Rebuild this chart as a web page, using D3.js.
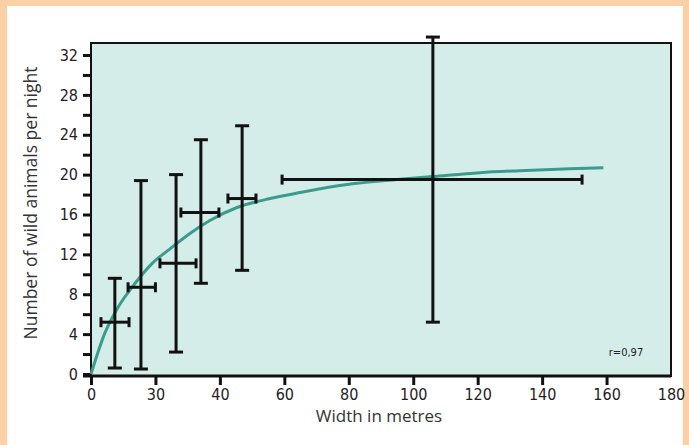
<!DOCTYPE html>
<html>
<head>
<meta charset="utf-8">
<script src="https://cdn.jsdelivr.net/npm/d3@7"></script>
<style>
  body { margin: 0; background: #fcd0a6; }
  svg { display: block; }
</style>
</head>
<body>
<script>
// error bar points: centre, vertical range, horizontal range
var widthCentre  = [7.4, 15.5, 26.4, 34.1, 46.9, 106.1];
var animalsMean  = [5.2, 8.7, 11.1, 16.2, 17.6, 19.5];
var animalsLow   = [0.6, 0.5, 2.2, 9.1, 10.4, 5.2];
var animalsHigh  = [9.6, 19.4, 20.0, 23.5, 24.9, 33.8];
var widthLow     = [3.1, 11.5, 21.4, 27.9, 42.5, 59.3];
var widthHigh    = [11.8, 20.0, 32.6, 39.7, 51.2, 152.4];

// fitted curve
var curveX = [0, 4.3, 8.4, 13.7, 19, 23.9, 30.7, 36.9, 45.3, 55.6, 64.9, 79.5, 95, 106, 120.7, 133, 148.7, 159];
var curveY = [0, 4.1, 6.7, 9.1, 11.1, 12.4, 14.1, 15.4, 16.7, 17.6, 18.2, 19.0, 19.5, 19.8, 20.2, 20.4, 20.6, 20.7];

var xTickValues = [0, 20, 40, 60, 80, 100, 120, 140, 160, 180];
var xTickLabels = ["0", "30", "40", "60", "80", "100", "120", "140", "160", "180"];
var yTickValues = [0, 4, 8, 12, 16, 20, 24, 28, 32];

var W = 689, H = 445;
var svg = d3.select("body").append("svg").attr("width", W).attr("height", H);

// white panel inside peach frame
svg.append("rect").attr("x", 7).attr("y", 6).attr("width", W - 13).attr("height", H - 6).attr("fill", "#ffffff");

var plot = {left: 91, right: 671, top: 43, bottom: 376};
var x = d3.scaleLinear().domain([0, 180]).range([plot.left, plot.right]);
var y = d3.scaleLinear().domain([0, 32]).range([374, 55]);

svg.append("rect")
  .attr("x", plot.left).attr("y", plot.top)
  .attr("width", plot.right - plot.left).attr("height", plot.bottom - plot.top)
  .attr("fill", "#d5ede9");

var tickFont = "'Liberation Sans Narrow', 'DejaVu Sans Condensed', sans-serif";

// y axis
var yAxis = svg.append("g").attr("transform", "translate(" + plot.left + ",0)")
  .call(d3.axisLeft(y).tickValues(d3.range(0, 33, 2)).tickSize(8)
    .tickFormat(function(d) { return yTickValues.indexOf(d) >= 0 ? d : ""; }));
yAxis.select(".domain").remove();
yAxis.selectAll("line").attr("stroke", "#111").attr("stroke-width", 3);
yAxis.selectAll("text").attr("font-family", tickFont).attr("font-size", 16).attr("fill", "#222").attr("x", -13);

// x axis
var xAxis = svg.append("g").attr("transform", "translate(0," + plot.bottom + ")")
  .call(d3.axisBottom(x).tickValues(xTickValues).tickSize(9)
    .tickFormat(function(d, i) { return xTickLabels[i]; }));
xAxis.select(".domain").remove();
xAxis.selectAll("line").attr("stroke", "#111").attr("stroke-width", 3)
  .attr("opacity", function(d) { return d === 180 ? 0 : 1; });
xAxis.selectAll("text").attr("font-family", tickFont).attr("font-size", 16).attr("fill", "#222").attr("y", 13);

// frame
svg.append("rect")
  .attr("x", plot.left).attr("y", plot.top)
  .attr("width", plot.right - plot.left).attr("height", plot.bottom - plot.top)
  .attr("fill", "none").attr("stroke", "#111").attr("stroke-width", 2);
svg.append("line").attr("x1", plot.left - 8).attr("x2", plot.right).attr("y1", plot.bottom).attr("y2", plot.bottom)
  .attr("stroke", "#111").attr("stroke-width", 3);

// curve
var curveData = curveX.map(function(d, i) { return [d, curveY[i]]; });
svg.append("path")
  .datum(curveData)
  .attr("fill", "none")
  .attr("stroke", "#3a9b8e")
  .attr("stroke-width", 3)
  .attr("d", d3.line().x(function(d) { return x(d[0]); }).y(function(d) { return y(d[1]); }).curve(d3.curveMonotoneX));

// error bars
var bars = svg.append("g").attr("stroke", "#111").attr("stroke-width", 3);
widthCentre.forEach(function(c, i) {
  var cx = x(c), cy = y(animalsMean[i]);
  bars.append("line").attr("x1", cx).attr("x2", cx).attr("y1", y(animalsLow[i])).attr("y2", y(animalsHigh[i]));
  bars.append("line").attr("x1", cx - 7).attr("x2", cx + 7).attr("y1", y(animalsLow[i])).attr("y2", y(animalsLow[i]));
  bars.append("line").attr("x1", cx - 7).attr("x2", cx + 7).attr("y1", y(animalsHigh[i])).attr("y2", y(animalsHigh[i]));
  bars.append("line").attr("x1", x(widthLow[i])).attr("x2", x(widthHigh[i])).attr("y1", cy).attr("y2", cy);
  bars.append("line").attr("x1", x(widthLow[i])).attr("x2", x(widthLow[i])).attr("y1", cy - 5).attr("y2", cy + 5);
  bars.append("line").attr("x1", x(widthHigh[i])).attr("x2", x(widthHigh[i])).attr("y1", cy - 5).attr("y2", cy + 5);
});

// labels
svg.append("text")
  .attr("x", 379).attr("y", 422)
  .attr("text-anchor", "middle")
  .attr("font-family", "'Open Sans', sans-serif").attr("font-size", 17)
  .attr("fill", "#333")
  .text("Width in metres");

svg.append("text")
  .attr("transform", "translate(37,203) rotate(-90)")
  .attr("text-anchor", "middle")
  .attr("font-family", "'Open Sans', sans-serif").attr("font-size", 17.5)
  .attr("fill", "#333")
  .text("Number of wild animals per night");

svg.append("text")
  .attr("x", 626).attr("y", 356)
  .attr("text-anchor", "middle")
  .attr("font-family", tickFont).attr("font-size", 11)
  .attr("fill", "#222")
  .text("r=0,97");
</script>
</body>
</html>
